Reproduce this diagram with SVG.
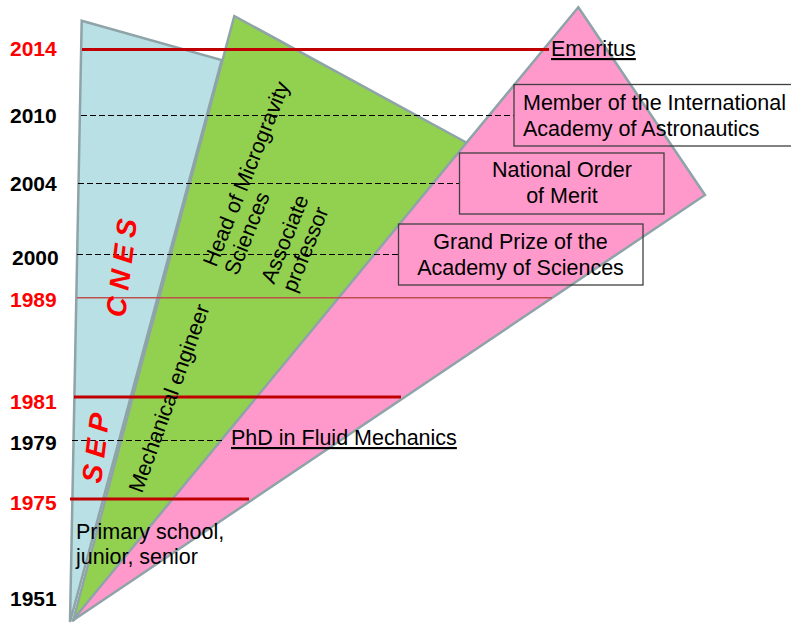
<svg xmlns="http://www.w3.org/2000/svg" width="791" height="625" viewBox="0 0 791 625">
<style>
.shape{stroke:#8ea4a8;stroke-width:2.5;stroke-linejoin:miter}
.yr{font-family:"Liberation Sans",Arial,sans-serif;font-weight:bold;font-size:21px}
.red{fill:#ff0000}
.blk{fill:#000}
.lbl{font-family:"Liberation Sans",Arial,sans-serif;font-size:21.5px;fill:#000}
.big{font-family:"Liberation Sans",Arial,sans-serif;font-size:28px;font-weight:bold;font-style:italic;fill:#ff0000;letter-spacing:7px}
.rl{stroke:#c00000;stroke-width:3}
.dl{stroke:#000;stroke-width:1;stroke-dasharray:6 3}
.box{fill:none;stroke:#404040;stroke-width:1.3}
</style>
<rect width="791" height="625" fill="#fff"/>
<g id="cnes-sep">
<polygon class="shape" fill="#b9e0e4" points="81.7,20.7 221.7,60 70,622"/>
</g>
<g id="engineer">
<polygon class="shape" fill="#92d050" points="234.3,16 480,150 73,621"/>
</g>
<g id="awards">
<polygon class="shape" fill="#ff99cc" points="578.3,7.3 705,195 72,621"/>
</g>
<g id="connectors">
<line class="rl" x1="82" y1="49.5" x2="549" y2="49.5"/>
<line class="dl" x1="81" y1="115.5" x2="514" y2="115.5"/>
<line class="dl" x1="78" y1="183.5" x2="459" y2="183.5"/>
<line class="dl" x1="77" y1="254.5" x2="398" y2="254.5"/>
<line x1="77" y1="297.7" x2="552" y2="297.7" stroke="#c0504d" stroke-width="1.5"/>
<line class="rl" x1="74" y1="397" x2="401" y2="397"/>
<line class="dl" x1="72" y1="440.5" x2="222" y2="440.5"/>
<line class="rl" x1="70" y1="499" x2="249" y2="499"/>
</g>
<g id="years">
<text class="yr red" x="10" y="56">2014</text>
<text class="yr blk" x="10" y="123">2010</text>
<text class="yr blk" x="10" y="191">2004</text>
<text class="yr blk" x="12" y="265">2000</text>
<text class="yr red" x="10" y="306.5">1989</text>
<text class="yr red" x="10" y="408.5">1981</text>
<text class="yr blk" x="10" y="449.5">1979</text>
<text class="yr red" x="10" y="509.5">1975</text>
<text class="yr blk" x="10" y="605.5">1951</text>
</g>
<g id="cnes-label">
<text class="big" transform="translate(125,318) rotate(-83)" x="0" y="0">CNES</text>
</g>
<g id="sep-label">
<text class="big" transform="translate(101,484) rotate(-83)" x="0" y="0">SEP</text>
</g>
<g id="school">
<text class="lbl" x="76" y="539">Primary school,</text>
<text class="lbl" x="76" y="564">junior, senior</text>
</g>
<g id="mechanical">
<text class="lbl" transform="translate(142,494) rotate(-70)" x="0" y="0">Mechanical engineer</text>
</g>
<g id="head">
<text class="lbl" transform="translate(216,268) rotate(-68)"><tspan x="0" y="0">Head of Microgravity</tspan><tspan x="0" y="23">Sciences</tspan></text>
</g>
<g id="associate">
<text class="lbl" transform="translate(274,285) rotate(-68)"><tspan x="0" y="0">Associate</tspan><tspan x="0" y="23">professor</tspan></text>
</g>
<g id="phd">
<text class="lbl" x="231" y="445" text-decoration="underline">PhD in Fluid Mechanics</text>
</g>
<g id="emeritus">
<text class="lbl" x="551" y="56" text-decoration="underline">Emeritus</text>
</g>
<g id="iaa">
<rect class="box" x="514" y="84.5" width="285" height="61.5"/>
<text class="lbl" x="523" y="110">Member of the International</text>
<text class="lbl" x="523" y="135.5">Academy of Astronautics</text>
</g>
<g id="merit">
<rect class="box" x="459.5" y="153" width="204.5" height="61"/>
<text class="lbl" x="562" y="177" text-anchor="middle">National Order</text>
<text class="lbl" x="562" y="203" text-anchor="middle">of Merit</text>
</g>
<g id="grand-prize">
<rect class="box" x="398.5" y="224" width="244.5" height="61"/>
<text class="lbl" x="520.5" y="249" text-anchor="middle">Grand Prize of the</text>
<text class="lbl" x="520.5" y="275" text-anchor="middle">Academy of Sciences</text>
</g>
</svg>
